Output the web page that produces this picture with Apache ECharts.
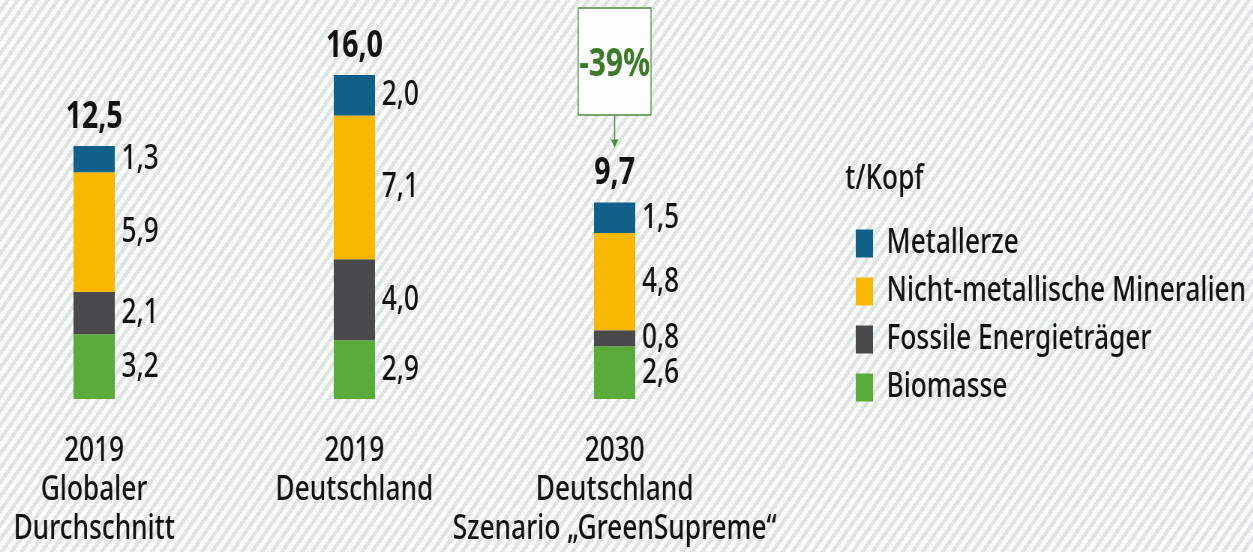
<!DOCTYPE html>
<html lang="de">
<head>
    <meta charset="UTF-8">
    <title>Rohstoffkonsum t/Kopf</title>
    <style>
        * {
            padding: 0;
            margin: 0;
        }
        body {
            width: 1253px;
            height: 552px;
            overflow: hidden;
            background: repeating-linear-gradient(125deg, #f9fafa 0 4.4px, #dfe5e5 4.4px 8.2px);
        }
        /* Schrift im Original ist schmal: Chart breiter zeichnen, dann horizontal stauchen */
        .EC {
            width: 1671px;
            height: 552px;
            transform: scaleX(0.75);
            transform-origin: 0 0;
        }
    </style>
</head>
<body>
<div class="EC"></div>
<script src="https://cdn.jsdelivr.net/npm/echarts@6/dist/echarts.min.js"></script>
<script>
    // Daten (t/Kopf)
    const categories = ['2019\nGlobaler\nDurchschnitt', '2019\nDeutschland', '2030\nDeutschland\nSzenario „GreenSupreme“']
    const biomasse = [3.2, 2.9, 2.6]
    const fossile = [2.1, 4.0, 0.8]
    const mineralien = [5.9, 7.1, 4.8]
    const metallerze = [1.3, 2.0, 1.5]
    const legendNames = ['Metallerze', 'Nicht-metallische Mineralien', 'Fossile Energieträger', 'Biomasse']

    const totals = categories.map((c, i) => biomasse[i] + fossile[i] + mineralien[i] + metallerze[i])
    const fmt = v => Number(v).toFixed(1).replace('.', ',')
    const FONT = '"Noto Sans", sans-serif'

    window.onload = () => {
        let EC = echarts.init(document.querySelector('.EC'), null, { renderer: 'canvas' })

        const seg = (name, data, color) => ({
            name: name,
            type: 'bar',
            stack: 'sum',
            data: data,
            barWidth: 55,
            itemStyle: { color: color },
            label: {
                show: true,
                position: 'right',
                distance: 9,
                formatter: p => fmt(p.value),
                color: '#111',
                fontFamily: FONT,
                fontWeight: 500,
                fontSize: 35
            }
        })

        let option = {
            backgroundColor: 'transparent',
            animation: false,
            title: {
                text: 't/Kopf',
                left: 1122,
                top: 157,
                textStyle: {
                    color: '#111',
                    fontFamily: FONT,
                    fontWeight: 500,
                    fontSize: 35
                }
            },
            legend: {
                data: legendNames,
                orient: 'vertical',
                left: 1136,
                top: 221,
                icon: 'rect',
                itemWidth: 23,
                itemHeight: 28,
                itemGap: 13,
                textStyle: {
                    color: '#111',
                    fontFamily: FONT,
                    fontWeight: 500,
                    fontSize: 35,
                    lineHeight: 28,
                    padding: [0, 0, 0, 13]
                }
            },
            grid: {
                left: -48,
                width: 1041,
                top: 75,
                height: 324,
                outerBoundsMode: 'none',
                containLabel: false
            },
            xAxis: {
                type: 'category',
                data: categories,
                axisLine: { show: false },
                axisTick: { show: false },
                axisLabel: {
                    interval: 0,
                    margin: 33,
                    color: '#111',
                    fontFamily: FONT,
                    fontWeight: 500,
                    fontSize: 35,
                    lineHeight: 39
                }
            },
            yAxis: {
                type: 'value',
                min: 0,
                max: 16,
                show: false,
                splitLine: { show: false }
            },
            series: [
                seg('Biomasse', biomasse, '#5aab3a'),
                seg('Fossile Energieträger', fossile, '#4a4a4c'),
                seg('Nicht-metallische Mineralien', mineralien, '#f8b800'),
                seg('Metallerze', metallerze, '#11608a'),
                {
                    name: 'Summe',
                    type: 'bar',
                    data: totals,
                    barWidth: 55,
                    barGap: '-100%',
                    z: 1,
                    silent: true,
                    itemStyle: { color: 'rgba(0,0,0,0)' },
                    label: {
                        show: true,
                        position: 'top',
                        distance: 10,
                        formatter: p => fmt(p.value),
                        color: '#111',
                        fontFamily: FONT,
                        fontWeight: 'bold',
                        fontSize: 38
                    }
                }
            ]
        }
        EC.setOption(option)

        // Veränderung 2019 -> 2030 Deutschland als Kasten mit Pfeil
        let change = Math.round((totals[2] - totals[1]) / totals[1] * 100)
        let top = EC.convertToPixel({ xAxisIndex: 0, yAxisIndex: 0 }, [2, totals[2]])
        let cx = top[0]
        let boxW = 97, boxTop = 8, boxH = 107
        let tipY = top[1] - 55
        let green = '#4f8a3f'
        EC.setOption({
            graphic: [
                {
                    type: 'rect',
                    shape: { x: cx - boxW / 2, y: boxTop, width: boxW, height: boxH },
                    style: { fill: '#fdfdfd', stroke: green, lineWidth: 1.3 }
                },
                {
                    type: 'text',
                    x: cx,
                    y: boxTop + boxH / 2 + 3,
                    style: {
                        text: (change > 0 ? '+' : '') + change + '%',
                        fill: '#3c7a2a',
                        font: 'bold 40px ' + FONT,
                        align: 'center',
                        verticalAlign: 'middle'
                    }
                },
                {
                    type: 'line',
                    shape: { x1: cx, y1: boxTop + boxH, x2: cx, y2: tipY - 6 },
                    style: { stroke: green, lineWidth: 1.5 }
                },
                {
                    type: 'polygon',
                    shape: { points: [[cx - 5, tipY - 8], [cx + 5, tipY - 8], [cx, tipY]] },
                    style: { fill: green }
                }
            ]
        })
    }
</script>
</body>
</html>
